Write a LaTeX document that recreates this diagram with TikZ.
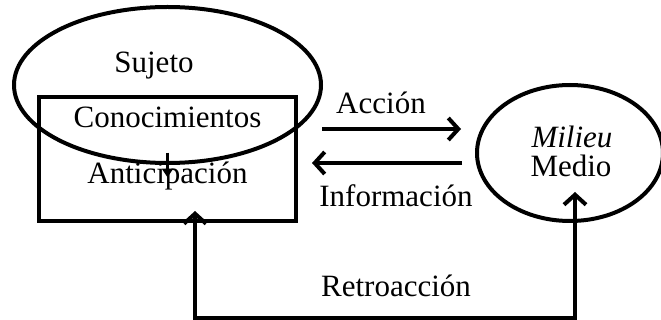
\documentclass[tikz,border=0pt]{standalone}
\usepackage{fontspec}
\setmainfont{Liberation Serif}
\usetikzlibrary{shapes.geometric,arrows.meta,calc}
\begin{document}
\begin{tikzpicture}[x=1pt,y=1pt,
    texto/.style={inner sep=0pt,anchor=base,font=\fontsize{31}{37}\selectfont},
    borde/.style={draw,line width=4pt,inner sep=0pt},
    flecha/.style={line width=4pt,-{Straight Barb[length=10pt,width=22pt]}},
    doble/.style={line width=4pt,{Straight Barb[length=10pt,width=22pt]}-{Straight Barb[length=10pt,width=22pt]}}]
            \useasboundingbox (0,0) rectangle (661,-320);
            \node [borde,ellipse,minimum width=307pt,minimum height=156pt] (sujeto) at (167.5,-85) {};
            \node [borde,rectangle,minimum width=257pt,minimum height=124pt] (saber) at (167.5,-159) {};
            \node [borde,ellipse,minimum width=186pt,minimum height=136pt] (medio) at (570,-153) {};
            \node [texto] (sujetotxt) at (154,-73) {Sujeto};
            \node [texto] (conoc) at (167.5,-128) {Conocimientos};
            \node [texto] (antic) at (167.5,-184) {Anticipación};
            \node [texto] (accion) at (381,-114) {Acción};
            \node [texto] (info) at (396,-207) {Información};
            \node [texto] (retro) at (396,-297) {Retroacción};
            \node [texto] (milieu) at (572,-148) {\itshape Milieu};
            \node [texto] (mediotxt) at (571,-177) {Medio};
            \coordinate (c1) at ($(conoc.south)+(0,-24)$);
            \coordinate (c2) at ($(conoc.south)+(0,-49)$);
            \draw [line width=3pt,-{Triangle[length=9pt,width=11pt]}] (c1) -- (c2);
            \coordinate (a1) at (322,-129);
            \coordinate (a2) at (461,-129);
            \draw [flecha] (a1) -- (a2);
            \coordinate (i1) at (462,-163);
            \coordinate (i2) at (312,-163);
            \draw [flecha] (i1) -- (i2);
            \coordinate (tl) at (195,-211);
            \coordinate (r1) at (195,-318);
            \coordinate (r2) at (575,-318);
            \coordinate (tr) at (575,-192);
            \draw [doble] (tl) -- (r1) -- (r2) -- (tr);
\end{tikzpicture}
\end{document}
